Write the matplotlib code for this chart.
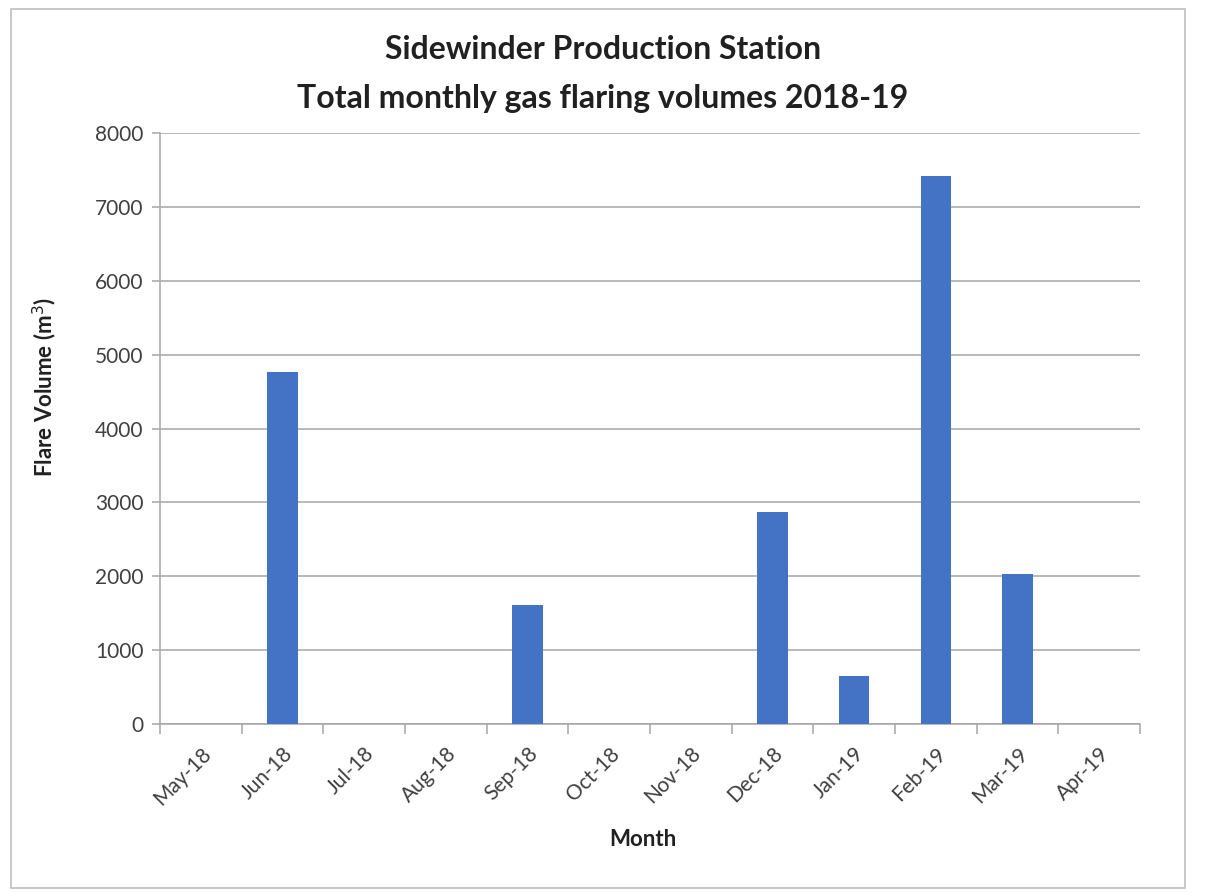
import numpy as np
import matplotlib
matplotlib.use("Agg")
import matplotlib.pyplot as plt
from matplotlib.patches import Rectangle

plt.rcParams['font.family'] = ['Lato', 'DejaVu Sans']

months = ["May-18", "Jun-18", "Jul-18", "Aug-18", "Sep-18", "Oct-18",
          "Nov-18", "Dec-18", "Jan-19", "Feb-19", "Mar-19", "Apr-19"]
flare_volume = [0, 4770, 0, 0, 1610, 0, 0, 2870, 650, 7420, 2030, 0]
y_ticks = [0, 1000, 2000, 3000, 4000, 5000, 6000, 7000, 8000]

bar_color = "#4472C4"
grid_color = "#A6A6A6"
text_color = "#404040"

fig = plt.figure(figsize=(12.06, 8.92), dpi=100)
ax = fig.add_axes([0.1327, 0.1883, 0.8126, 0.6626])

# outer chart border
fig.patches.append(Rectangle((0.009, 0.005), 0.974, 0.985, transform=fig.transFigure,
                             fill=False, edgecolor="#BFBFBF", linewidth=1.2))

x = np.arange(len(months))
ax.bar(x, flare_volume, width=0.37, color=bar_color, linewidth=0, zorder=3)

ax.set_xlim(-0.5, len(months) - 0.5)
ax.set_ylim(0, 8000)
ax.set_yticks(y_ticks)
ax.set_yticklabels([str(v) for v in y_ticks], fontsize=15, color=text_color)
ax.yaxis.grid(True, color=grid_color, linewidth=1.1, zorder=0)

ax.set_xticks(x)
ax.set_xticklabels(months, rotation=45, ha="right", rotation_mode="anchor",
                   fontsize=15, color=text_color)
ax.tick_params(axis="x", which="major", length=0, pad=14)
ax.set_xticks(np.arange(-0.5, len(months)), minor=True)
ax.tick_params(axis="x", which="minor", length=7, color=grid_color, width=1.1)
ax.tick_params(axis="y", length=6, color=grid_color, width=1.1, pad=6)

for s in ["top", "right"]:
    ax.spines[s].set_visible(False)
for s in ["left", "bottom"]:
    ax.spines[s].set_color(grid_color)
    ax.spines[s].set_linewidth(1.1)

ax.set_xlabel("Month", fontsize=16, fontweight="bold", color="#202020")
ax.xaxis.set_label_coords(0.493, -0.178)
ax.set_ylabel("Flare Volume (m$^3$)", fontsize=16, fontweight="bold", color="#202020")
ax.yaxis.set_label_coords(-0.103, 0.57)

fig.text(0.5, 0.945, "Sidewinder Production Station", ha="center", va="center",
         fontsize=23, fontweight="bold", color="#202020")
fig.text(0.5, 0.89, "Total monthly gas flaring volumes 2018-19", ha="center", va="center",
         fontsize=23, fontweight="bold", color="#202020")

fig.savefig("out.png", dpi=100)
